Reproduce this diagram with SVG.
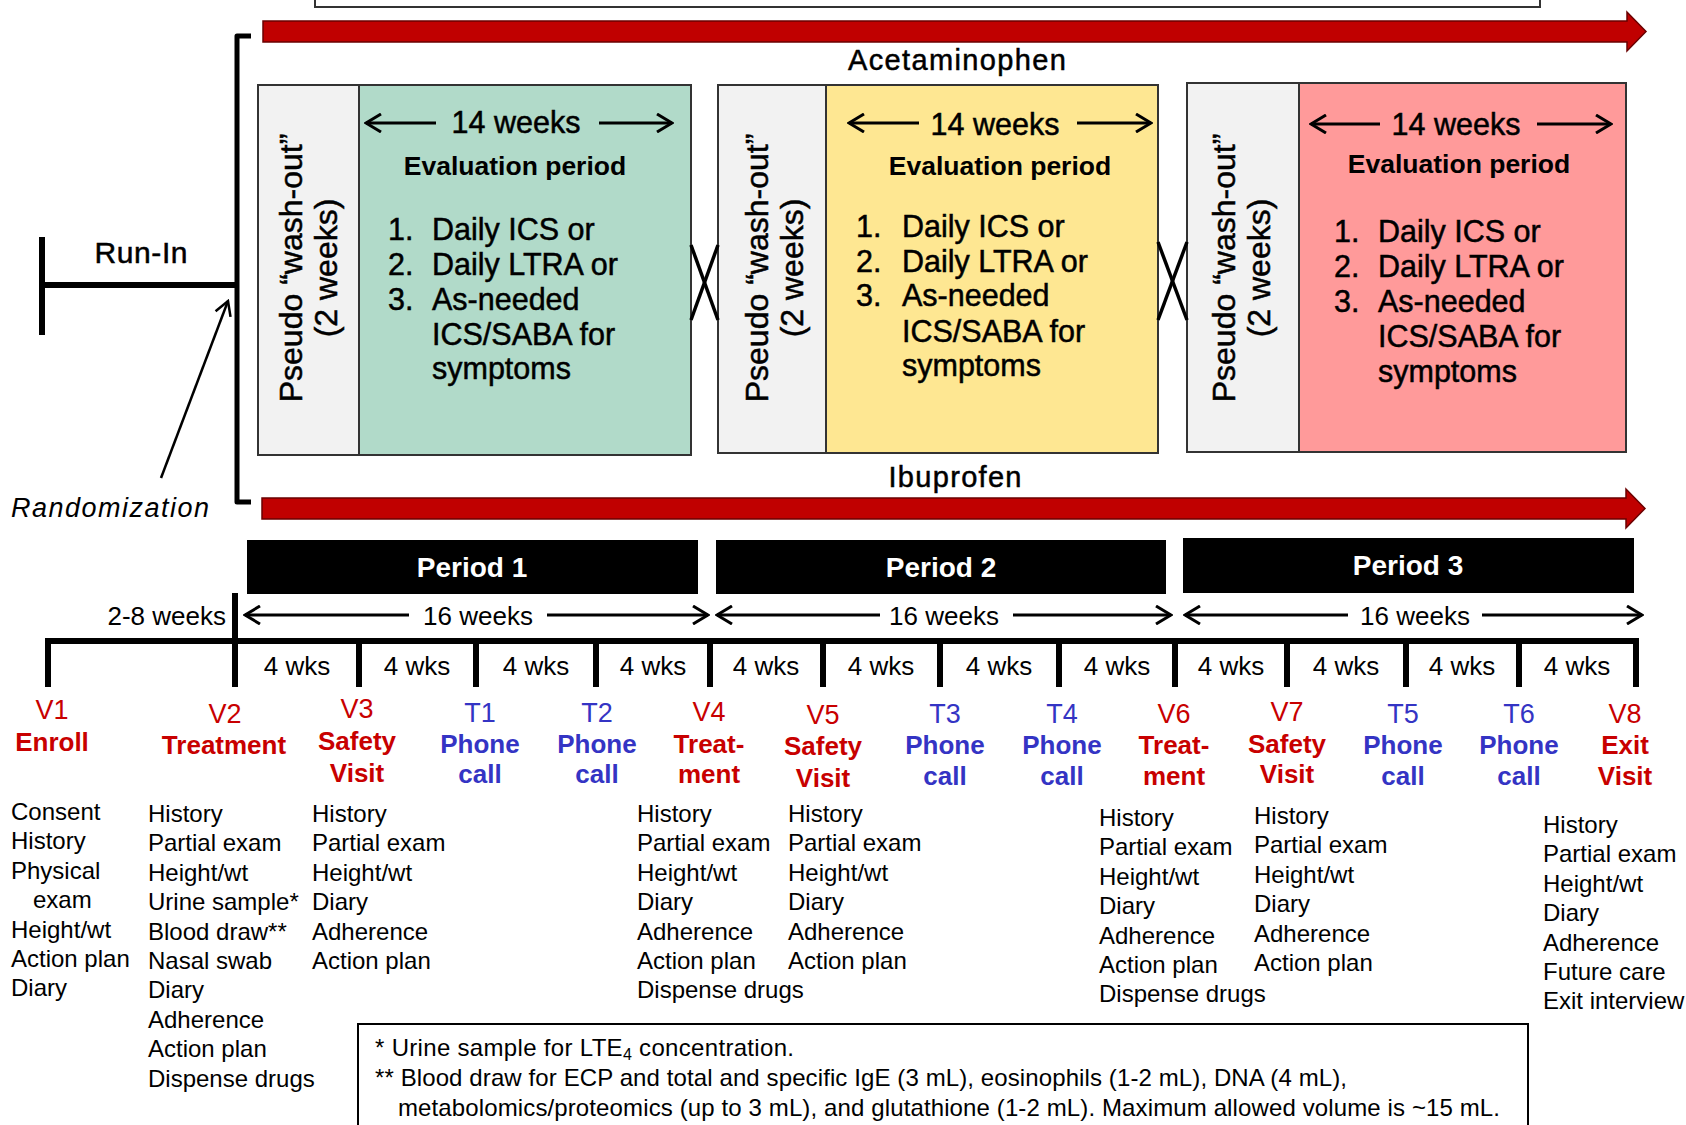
<svg xmlns="http://www.w3.org/2000/svg" width="1686" height="1125" viewBox="0 0 1686 1125">
<style>
text{font-family:"Liberation Sans",Arial,Helvetica,sans-serif;fill:#000}
.hv{stroke:#000;stroke-width:0.5px}
.lst{font-size:30.5px}
.eval{font-size:26.5px;font-weight:bold;text-anchor:middle}
.wk{font-size:30.5px;text-anchor:middle}
.rot{font-size:32px;text-anchor:middle}
.drug{font-size:29px;text-anchor:middle}
.per{font-size:28px;font-weight:bold;fill:#fff;text-anchor:middle}
.sw{font-size:26px;text-anchor:middle}
.code{font-size:27px;text-anchor:middle}
.sub{font-size:26px;font-weight:bold;text-anchor:middle}
.red{fill:#C80000}
.blue{fill:#3434C4}
.chk{font-size:24px}
.foot{font-size:24px}
.arr{stroke:#000;stroke-width:3;fill:none}
.thick{stroke:#000;stroke-width:6;fill:none}
.box{stroke:#333;stroke-width:2}
.redarrow{fill:#C00000;stroke:#6a0000;stroke-width:1.5}
.xx{stroke:#000;stroke-width:3.5}
</style>
<defs>
<marker id="ah" viewBox="0 0 20 20" refX="18" refY="10" markerWidth="20" markerHeight="20" markerUnits="userSpaceOnUse" orient="auto"><path d="M3,1 L18,10 L3,19" fill="none" stroke="#000" stroke-width="3"/></marker>
<marker id="ahs" viewBox="0 0 20 20" refX="18" refY="10" markerWidth="20" markerHeight="20" markerUnits="userSpaceOnUse" orient="auto"><path d="M4,2 L18,10 L4,18" fill="none" stroke="#000" stroke-width="2.5"/></marker>
</defs>

<!-- top box (partially visible) -->
<rect x="315" y="-10" width="1225" height="17" fill="#fff" stroke="#333" stroke-width="2"/>

<!-- drug arrows -->
<g id="acetaminophen">
<polygon class="redarrow" points="263,21 1627,21 1627,12 1646,31.5 1627,51 1627,42 263,42"/>
<text class="drug hv" x="957" y="70" textLength="218">Acetaminophen</text>
</g>
<g id="ibuprofen">
<polygon class="redarrow" points="262,498 1626,498 1626,489 1645,508.5 1626,528 1626,519 262,519"/>
<text class="drug hv" x="955" y="487" textLength="133">Ibuprofen</text>
</g>

<!-- run-in -->
<g id="runin">
<line class="thick" x1="42" y1="237" x2="42" y2="335" stroke-width="5"/>
<line class="thick" x1="42" y1="285" x2="237" y2="285" stroke-width="5"/>
<text class="hv" x="141" y="263" font-size="30" text-anchor="middle" textLength="93">Run-In</text>
</g>

<g id="randomization">
<path d="M251,36 L237,36 L237,502 L251,502" fill="none" stroke="#000" stroke-width="5" stroke-linejoin="round"/>
<line x1="161" y1="478" x2="228" y2="301" stroke="#000" stroke-width="2.5" marker-end="url(#ahs)"/>
<text x="11" y="517" font-size="27" font-style="italic" textLength="198">Randomization</text>
</g>

<!-- treatment box 1 -->
<g id="box1">
<rect class="box" x="258" y="85" width="101" height="370" fill="#F2F2F2"/>
<rect class="box" x="359" y="85" width="332" height="370" fill="#B1DAC9"/>
<text class="rot hv" transform="translate(302,268) rotate(-90)">Pseudo “wash-out”</text>
<text class="rot hv" transform="translate(337,268) rotate(-90)">(2 weeks)</text>
<line class="arr" x1="436" y1="123" x2="366" y2="123" marker-end="url(#ah)"/>
<line class="arr" x1="599" y1="123" x2="672" y2="123" marker-end="url(#ah)"/>
<text class="wk hv" x="516" y="133">14 weeks</text>
<text class="eval" x="515" y="175">Evaluation period</text>
<text class="lst hv"><tspan x="388" y="240">1.</tspan><tspan x="432" y="240">Daily ICS or</tspan><tspan x="388" y="275">2.</tspan><tspan x="432" y="275">Daily LTRA or</tspan><tspan x="388" y="310">3.</tspan><tspan x="432" y="310">As-needed</tspan><tspan x="432" y="345">ICS/SABA for</tspan><tspan x="432" y="379">symptoms</tspan></text>
</g>

<!-- treatment box 2 -->
<g id="box2">
<rect class="box" x="718" y="85" width="108" height="368" fill="#F2F2F2"/>
<rect class="box" x="826" y="85" width="332" height="368" fill="#FEE792"/>
<text class="rot hv" transform="translate(768,268) rotate(-90)">Pseudo “wash-out”</text>
<text class="rot hv" transform="translate(803,268) rotate(-90)">(2 weeks)</text>
<line class="arr" x1="919" y1="123" x2="849" y2="123" marker-end="url(#ah)"/>
<line class="arr" x1="1077" y1="123" x2="1151" y2="123" marker-end="url(#ah)"/>
<text class="wk hv" x="995" y="135">14 weeks</text>
<text class="eval" x="1000" y="175">Evaluation period</text>
<text class="lst hv"><tspan x="856" y="237">1.</tspan><tspan x="902" y="237">Daily ICS or</tspan><tspan x="856" y="272">2.</tspan><tspan x="902" y="272">Daily LTRA or</tspan><tspan x="856" y="306">3.</tspan><tspan x="902" y="306">As-needed</tspan><tspan x="902" y="342">ICS/SABA for</tspan><tspan x="902" y="376">symptoms</tspan></text>
</g>

<!-- treatment box 3 -->
<g id="box3">
<rect class="box" x="1187" y="83" width="112" height="369" fill="#F2F2F2"/>
<rect class="box" x="1299" y="83" width="327" height="369" fill="#FF9A9A"/>
<text class="rot hv" transform="translate(1235,268) rotate(-90)">Pseudo “wash-out”</text>
<text class="rot hv" transform="translate(1270,268) rotate(-90)">(2 weeks)</text>
<line class="arr" x1="1380" y1="124" x2="1311" y2="124" marker-end="url(#ah)"/>
<line class="arr" x1="1537" y1="124" x2="1611" y2="124" marker-end="url(#ah)"/>
<text class="wk hv" x="1456" y="135">14 weeks</text>
<text class="eval" x="1459" y="173">Evaluation period</text>
<text class="lst hv"><tspan x="1334" y="242">1.</tspan><tspan x="1378" y="242">Daily ICS or</tspan><tspan x="1334" y="277">2.</tspan><tspan x="1378" y="277">Daily LTRA or</tspan><tspan x="1334" y="312">3.</tspan><tspan x="1378" y="312">As-needed</tspan><tspan x="1378" y="347">ICS/SABA for</tspan><tspan x="1378" y="382">symptoms</tspan></text>
</g>

<!-- crossovers -->
<g id="connectors">
<line class="xx" x1="691" y1="245" x2="718" y2="320"/>
<line class="xx" x1="718" y1="245" x2="691" y2="320"/>
<line class="xx" x1="1158" y1="242" x2="1187" y2="320"/>
<line class="xx" x1="1187" y1="242" x2="1158" y2="320"/>
</g>

<!-- periods -->
<g id="period1"><rect x="247" y="540" width="451" height="54" fill="#000"/><text class="per" x="472" y="577">Period 1</text></g>
<g id="period2"><rect x="716" y="540" width="450" height="54" fill="#000"/><text class="per" x="941" y="577">Period 2</text></g>
<g id="period3"><rect x="1183" y="538" width="451" height="55" fill="#000"/><text class="per" x="1408" y="575">Period 3</text></g>

<!-- week spans -->
<g id="weeks">
<text class="sw" x="226" y="625" style="text-anchor:end">2-8 weeks</text>
<line class="arr" x1="409" y1="615" x2="245" y2="615" marker-end="url(#ah)"/>
<text class="sw" x="478" y="625">16 weeks</text>
<line class="arr" x1="547" y1="615" x2="708" y2="615" marker-end="url(#ah)"/>
<line class="arr" x1="880" y1="615" x2="717" y2="615" marker-end="url(#ah)"/>
<text class="sw" x="944" y="625">16 weeks</text>
<line class="arr" x1="1013" y1="615" x2="1171" y2="615" marker-end="url(#ah)"/>
<line class="arr" x1="1348" y1="615" x2="1185" y2="615" marker-end="url(#ah)"/>
<text class="sw" x="1415" y="625">16 weeks</text>
<line class="arr" x1="1482" y1="615" x2="1642" y2="615" marker-end="url(#ah)"/>
</g>

<!-- timeline -->
<g id="timeline">
<path class="thick" d="M48,687 L48,641 L1636,641 L1636,687"/>
<line class="thick" x1="235" y1="593" x2="235" y2="687"/>
<line class="thick" x1="359" y1="641" x2="359" y2="687"/>
<line class="thick" x1="476" y1="641" x2="476" y2="687"/>
<line class="thick" x1="596" y1="641" x2="596" y2="687"/>
<line class="thick" x1="710" y1="641" x2="710" y2="687"/>
<line class="thick" x1="823" y1="641" x2="823" y2="687"/>
<line class="thick" x1="940" y1="641" x2="940" y2="687"/>
<line class="thick" x1="1059" y1="641" x2="1059" y2="687"/>
<line class="thick" x1="1175" y1="641" x2="1175" y2="687"/>
<line class="thick" x1="1287" y1="641" x2="1287" y2="687"/>
<line class="thick" x1="1406" y1="641" x2="1406" y2="687"/>
<line class="thick" x1="1519" y1="641" x2="1519" y2="687"/>
<text class="sw" x="297" y="675">4 wks</text>
<text class="sw" x="417" y="675">4 wks</text>
<text class="sw" x="536" y="675">4 wks</text>
<text class="sw" x="653" y="675">4 wks</text>
<text class="sw" x="766" y="675">4 wks</text>
<text class="sw" x="881" y="675">4 wks</text>
<text class="sw" x="999" y="675">4 wks</text>
<text class="sw" x="1117" y="675">4 wks</text>
<text class="sw" x="1231" y="675">4 wks</text>
<text class="sw" x="1346" y="675">4 wks</text>
<text class="sw" x="1462" y="675">4 wks</text>
<text class="sw" x="1577" y="675">4 wks</text>
</g>

<!-- visits -->
<g id="V1"><text class="code red" x="52" y="719">V1</text><text class="sub red" x="52" y="751">Enroll</text>
<text class="chk"><tspan x="11" y="820">Consent</tspan><tspan x="11" y="849.4">History</tspan><tspan x="11" y="878.8">Physical</tspan><tspan x="33" y="908.2">exam</tspan><tspan x="11" y="937.6">Height/wt</tspan><tspan x="11" y="967">Action plan</tspan><tspan x="11" y="996.4">Diary</tspan></text></g>

<g id="V2"><text class="code red" x="225" y="723">V2</text><text class="sub red" x="224" y="754">Treatment</text>
<text class="chk"><tspan x="148" y="822">History</tspan><tspan x="148" y="851.4">Partial exam</tspan><tspan x="148" y="880.8">Height/wt</tspan><tspan x="148" y="910.2">Urine sample*</tspan><tspan x="148" y="939.6">Blood draw**</tspan><tspan x="148" y="969">Nasal swab</tspan><tspan x="148" y="998.4">Diary</tspan><tspan x="148" y="1027.8">Adherence</tspan><tspan x="148" y="1057.2">Action plan</tspan><tspan x="148" y="1086.6">Dispense drugs</tspan></text></g>

<g id="V3"><text class="code red" x="357" y="718">V3</text><text class="sub red" x="357" y="750">Safety</text><text class="sub red" x="357" y="782">Visit</text>
<text class="chk"><tspan x="312" y="822">History</tspan><tspan x="312" y="851.4">Partial exam</tspan><tspan x="312" y="880.8">Height/wt</tspan><tspan x="312" y="910.2">Diary</tspan><tspan x="312" y="939.6">Adherence</tspan><tspan x="312" y="969">Action plan</tspan></text></g>

<g id="T1"><text class="code blue" x="480" y="722">T1</text><text class="sub blue" x="480" y="753">Phone</text><text class="sub blue" x="480" y="783">call</text></g>
<g id="T2"><text class="code blue" x="597" y="722">T2</text><text class="sub blue" x="597" y="753">Phone</text><text class="sub blue" x="597" y="783">call</text></g>

<g id="V4"><text class="code red" x="709" y="721">V4</text><text class="sub red" x="709" y="753">Treat-</text><text class="sub red" x="709" y="783">ment</text>
<text class="chk"><tspan x="637" y="822">History</tspan><tspan x="637" y="851.4">Partial exam</tspan><tspan x="637" y="880.8">Height/wt</tspan><tspan x="637" y="910.2">Diary</tspan><tspan x="637" y="939.6">Adherence</tspan><tspan x="637" y="969">Action plan</tspan><tspan x="637" y="998.4">Dispense drugs</tspan></text></g>

<g id="V5"><text class="code red" x="823" y="724">V5</text><text class="sub red" x="823" y="755">Safety</text><text class="sub red" x="823" y="787">Visit</text>
<text class="chk"><tspan x="788" y="822">History</tspan><tspan x="788" y="851.4">Partial exam</tspan><tspan x="788" y="880.8">Height/wt</tspan><tspan x="788" y="910.2">Diary</tspan><tspan x="788" y="939.6">Adherence</tspan><tspan x="788" y="969">Action plan</tspan></text></g>

<g id="T3"><text class="code blue" x="945" y="723">T3</text><text class="sub blue" x="945" y="754">Phone</text><text class="sub blue" x="945" y="785">call</text></g>
<g id="T4"><text class="code blue" x="1062" y="723">T4</text><text class="sub blue" x="1062" y="754">Phone</text><text class="sub blue" x="1062" y="785">call</text></g>

<g id="V6"><text class="code red" x="1174" y="723">V6</text><text class="sub red" x="1174" y="754">Treat-</text><text class="sub red" x="1174" y="785">ment</text>
<text class="chk"><tspan x="1099" y="826">History</tspan><tspan x="1099" y="855.4">Partial exam</tspan><tspan x="1099" y="884.8">Height/wt</tspan><tspan x="1099" y="914.2">Diary</tspan><tspan x="1099" y="943.6">Adherence</tspan><tspan x="1099" y="973">Action plan</tspan><tspan x="1099" y="1002.4">Dispense drugs</tspan></text></g>

<g id="V7"><text class="code red" x="1287" y="721">V7</text><text class="sub red" x="1287" y="753">Safety</text><text class="sub red" x="1287" y="783">Visit</text>
<text class="chk"><tspan x="1254" y="824">History</tspan><tspan x="1254" y="853.4">Partial exam</tspan><tspan x="1254" y="882.8">Height/wt</tspan><tspan x="1254" y="912.2">Diary</tspan><tspan x="1254" y="941.6">Adherence</tspan><tspan x="1254" y="971">Action plan</tspan></text></g>

<g id="T5"><text class="code blue" x="1403" y="723">T5</text><text class="sub blue" x="1403" y="754">Phone</text><text class="sub blue" x="1403" y="785">call</text></g>
<g id="T6"><text class="code blue" x="1519" y="723">T6</text><text class="sub blue" x="1519" y="754">Phone</text><text class="sub blue" x="1519" y="785">call</text></g>

<g id="V8"><text class="code red" x="1625" y="723">V8</text><text class="sub red" x="1625" y="754">Exit</text><text class="sub red" x="1625" y="785">Visit</text>
<text class="chk"><tspan x="1543" y="833">History</tspan><tspan x="1543" y="862.4">Partial exam</tspan><tspan x="1543" y="891.8">Height/wt</tspan><tspan x="1543" y="921.2">Diary</tspan><tspan x="1543" y="950.6">Adherence</tspan><tspan x="1543" y="980">Future care</tspan><tspan x="1543" y="1009.4">Exit interview</tspan></text></g>

<!-- footnote -->
<g id="footnote">
<rect x="358" y="1024" width="1170" height="120" fill="#fff" stroke="#000" stroke-width="2"/>
<text class="foot" x="375" y="1056" textLength="419">*  Urine sample for LTE<tspan font-size="16" dy="4">4</tspan><tspan dy="-4"> concentration.</tspan></text>
<text class="foot" x="375" y="1086" textLength="972">** Blood draw for ECP and total and specific IgE (3 mL), eosinophils (1-2 mL), DNA (4 mL),</text>
<text class="foot" x="398" y="1116" textLength="1102">metabolomics/proteomics (up to 3 mL), and glutathione (1-2 mL).  Maximum allowed volume is ~15 mL.</text>
</g>
</svg>
